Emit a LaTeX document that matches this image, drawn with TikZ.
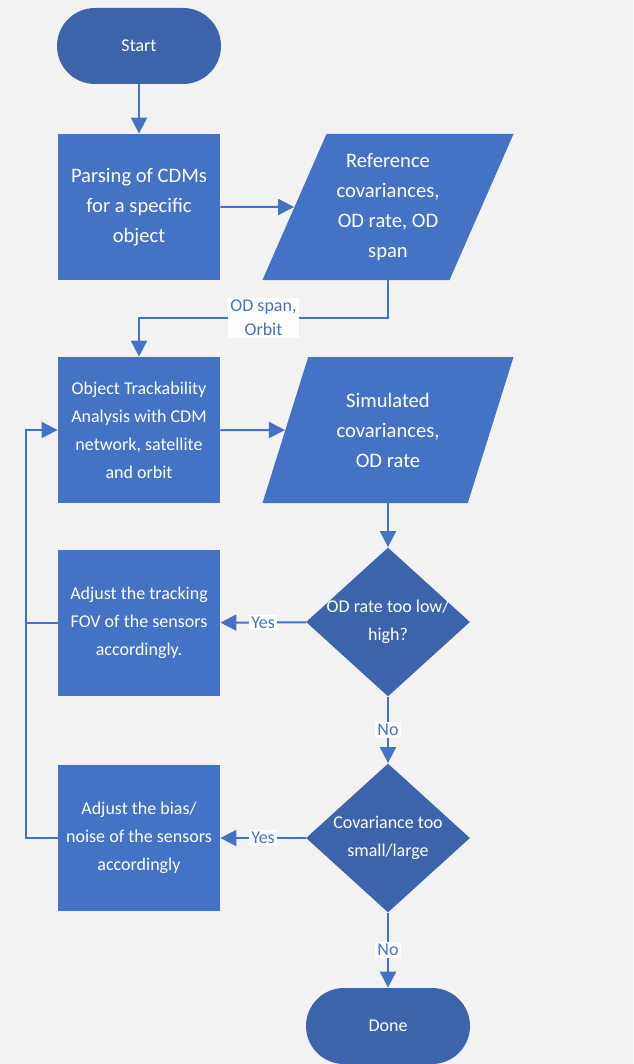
\documentclass[tikz,border=0pt]{standalone}
\usepackage{fontspec}
\setmainfont{Carlito}
\usetikzlibrary{shapes.geometric,arrows.meta}
\definecolor{boxblue}{HTML}{4472C4}
\definecolor{darkblue}{HTML}{3D64AB}
\definecolor{bggray}{HTML}{F2F2F2}
\tikzset{
	base/.style={text=white,font=\fontsize{9}{14}\selectfont,align=center,inner sep=2pt},
	bigtext/.style={font=\fontsize{10.3}{15}\selectfont},
	procbox/.style={base,rectangle,fill=boxblue,minimum width=81pt,minimum height=73pt},
	iobox/.style={base,bigtext,trapezium,trapezium left angle=61,trapezium right angle=119,trapezium stretches body,fill=boxblue,minimum width=125.5pt,minimum height=73pt},
	decision/.style={base,diamond,fill=darkblue,minimum width=82pt,minimum height=74.5pt,inner sep=-6pt},
	term/.style={base,rectangle,rounded corners=19pt,fill=darkblue,minimum width=82pt,minimum height=38pt},
	flow/.style={boxblue,line width=1pt,-{Triangle[length=8pt,width=8pt]}},
	lbl/.style={fill=white,text=boxblue,font=\fontsize{9}{12}\selectfont,align=center,inner sep=1pt},
}
\begin{document}
\begin{tikzpicture}[x=0.5pt,y=-0.5pt]
	\fill[bggray] (0,0) rectangle (633,1064);
	\useasboundingbox (0,0) rectangle (633,1064);
	\node[term] (start) at (139,46) {Start};
	\node[procbox,bigtext] (parse) at (139,207) {Parsing of CDMs\\for a specific\\object};
	\node[iobox] (ref) at (388,207) {Reference\\covariances,\\OD rate, OD\\span};
	\node[procbox] (track) at (139,430) {Object Trackability\\Analysis with CDM\\network, satellite\\and orbit};
	\node[iobox] (sim) at (388,430) {Simulated\\covariances,\\OD rate};
	\node[decision] (rate) at (388,622) {OD rate too low/\\high?};
	\node[procbox] (fov) at (139,623) {Adjust the tracking\\FOV of the sensors\\accordingly.};
	\node[decision] (cov) at (388,838) {Covariance too\\small/large};
	\node[procbox] (bias) at (139,838) {Adjust the bias/\\noise of the sensors\\accordingly};
	\node[term] (done) at (388,1026) {Done};
	\coordinate (bend) at (388,318);
	\coordinate (loop) at (26,838);
	\draw[flow] (start) -- (parse);
	\draw[flow] (parse) -- (ref);
	\draw[flow] (ref.south -| ref.center) -- (bend) -| node[lbl,pos=0.25] {OD span,\\Orbit} (track.north);
	\draw[flow] (track) -- (sim);
	\draw[flow] (sim.south -| sim.center) -- (rate.north);
	\draw[flow] (rate) -- node[lbl] {Yes} (fov);
	\draw[flow] (rate) -- node[lbl] {No} (cov);
	\draw[flow] (cov) -- node[lbl] {Yes} (bias);
	\draw[flow] (cov) -- node[lbl] {No} (done);
	\draw[flow] (bias.west) -- (loop) |- (track.west);
	\draw[boxblue,line width=1pt] (fov.west) -- (fov.west -| loop);
\end{tikzpicture}
\end{document}
